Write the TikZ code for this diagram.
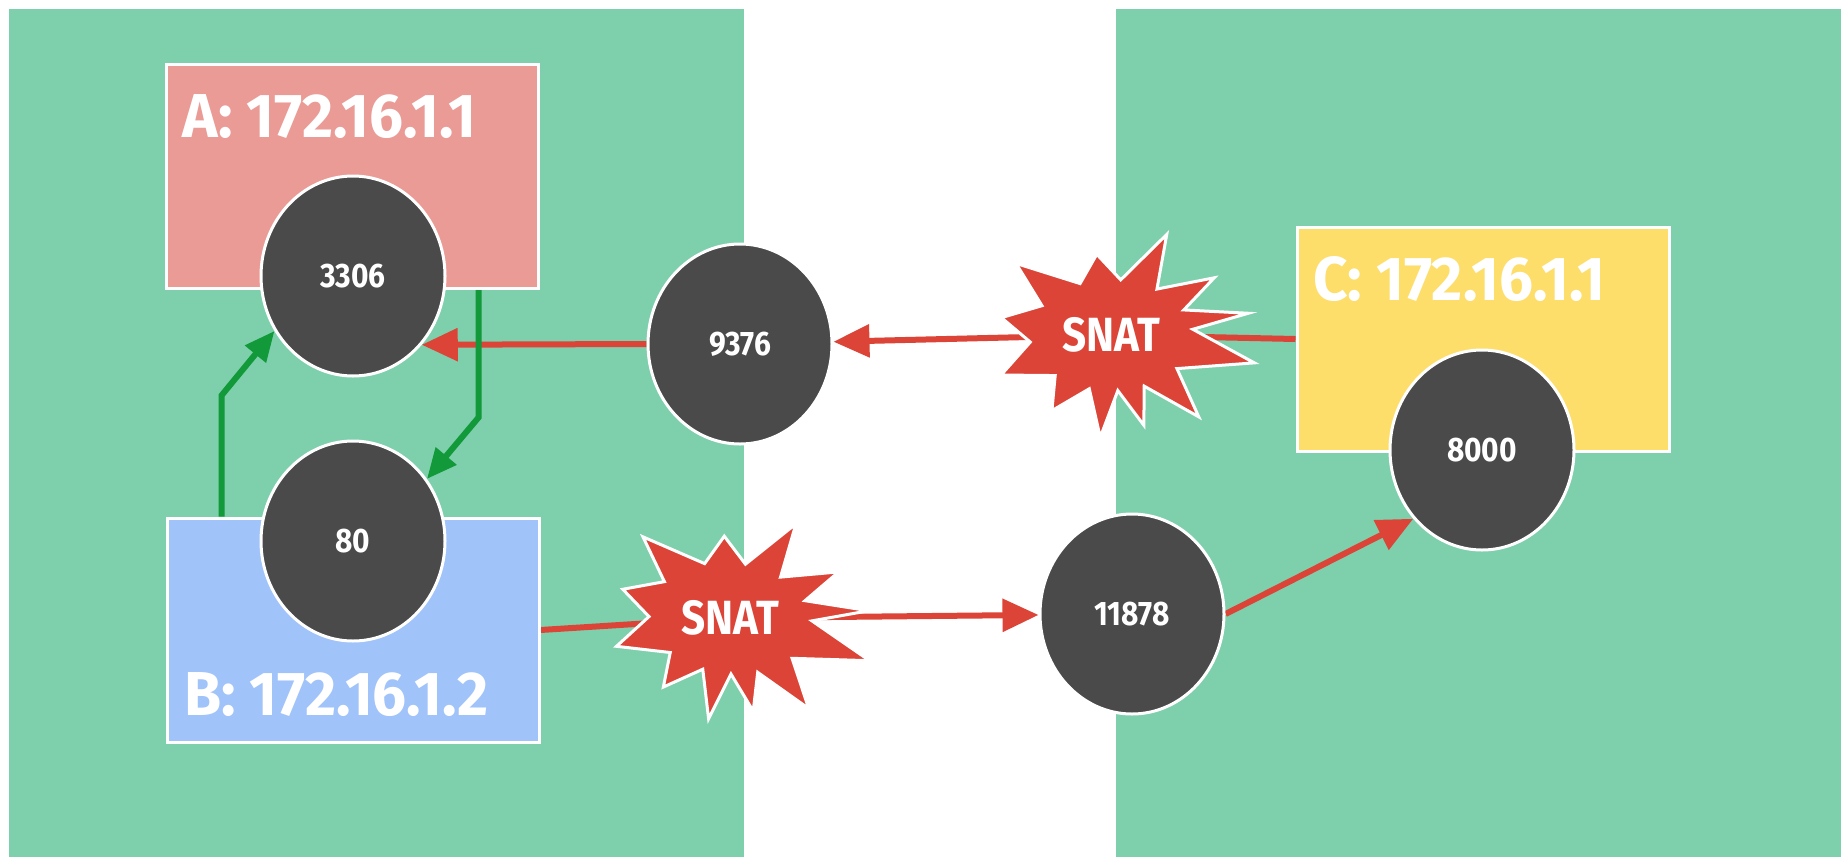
\documentclass[tikz,border=0pt]{standalone}
\usepackage{fontspec}
\newfontfamily\labfont{Fira Sans}[FakeStretch=0.97]
\newfontfamily\cond{Fira Sans}[FakeStretch=0.88]
\usetikzlibrary{shapes.geometric,arrows.meta,calc}

\definecolor{zone}{HTML}{7ECFAC}
\definecolor{hostA}{HTML}{EA9B96}
\definecolor{hostB}{HTML}{A0C3FA}
\definecolor{hostC}{HTML}{FDDE6B}
\definecolor{portgray}{HTML}{4A4A4A}
\definecolor{natred}{HTML}{DB4437}
\definecolor{loopgreen}{HTML}{12993A}

\pgfdeclarelayer{zones}
\pgfdeclarelayer{lines}
\pgfdeclarelayer{bursts}
\pgfsetlayers{zones,lines,bursts,main}

% jagged explosion behind an SNAT label: #1 = label node, #2 = rotation
\newcommand{\snatburst}[2]{%
  \begin{pgfonlayer}{bursts}
  \filldraw[fill=natred, draw=white, line width=3pt, shift={(#1.center)},
      y=1pt, rotate=#2]
    (9:139) -- (19:77) -- (29:118) -- (45:65) -- (61:115) -- (80:56)
    -- (100:82) -- (121:60) -- (143:119) -- (157:75) -- (171:111) -- (185:81)
    -- (200:117) -- (216:69) -- (232:96) -- (248:58) -- (264:103) -- (277:56)
    -- (290:96) -- (303:61) -- (317:120) -- (333:74) -- (349:146) -- (4:82)
    -- cycle;
  \end{pgfonlayer}}

\begin{document}
\begin{tikzpicture}[x=1pt,y=-1pt,
  hostbox/.style={rectangle, draw=white, line width=3pt, minimum width=372pt,
    minimum height=224pt, inner sep=0pt},
  hostlabel/.style={anchor=west, text=white, inner sep=0pt,
    font=\labfont\bfseries\fontsize{62}{64}\selectfont},
  port/.style={ellipse, fill=portgray, draw=white, line width=3pt,
    minimum width=184pt, minimum height=200pt, inner sep=0pt, text=white,
    font=\cond\bfseries\fontsize{34}{36}\selectfont},
  snatlabel/.style={inner sep=0pt, text=white,
    font=\cond\bfseries\fontsize{48}{50}\selectfont},
  redline/.style={natred, line width=6pt},
  redarrow/.style={redline, -{Triangle[length=36pt,width=32pt]}},
  greenarrow/.style={loopgreen, line width=6pt, -{Triangle[length=30pt,width=26pt]}}]

\useasboundingbox (0,0) rectangle (1841,857);

% two address zones on a white ground
\begin{pgfonlayer}{zones}
  \fill[white] (0,0) rectangle (1841,857);
  \fill[zone] (9,9) rectangle (744,857);
  \fill[zone] (1116,9) rectangle (1841,857);
\end{pgfonlayer}

% hosts
\node[hostbox, fill=hostA] (A) at (352,176) {};
\node[hostbox, fill=hostB] (B) at (353,630) {};
\node[hostbox, fill=hostC] (C) at (1483,339) {};
\node[hostlabel] (labA) at (182,117) {A: 172.16.1.1};
\node[hostlabel] (labB) at (184,695) {B: 172.16.1.2};
\node[hostlabel] (labC) at (1313,279) {C: 172.16.1.1};

% ports
\node[port] (p3306)  at (353,276)  {3306};
\node[port] (p80)    at (353,541)  {80};
\node[port] (p9376)  at (740,344)  {9376};
\node[port] (p11878) at (1132,614) {11878};
\node[port] (p8000)  at (1482,450) {8000};

% address translation
\node[snatlabel] (s1) at (1111,335) {SNAT};
\node[snatlabel] (s2) at (730,618)  {SNAT};
\snatburst{s1}{0}
\snatburst{s2}{-6}

% bend points of the local loop
\coordinate (gB)  at ($(B.north west)+(56,0)$);
\coordinate (gBk) at ($(gB)+(0,-121)$);
\coordinate (gA)  at ($(A.south east)+(-61,0)$);
\coordinate (gAk) at ($(gA)+(0,128)$);

\begin{pgfonlayer}{lines}
  \draw[redarrow] (p9376.west) -- (p3306.-45);
  \draw[redarrow] (s1.center) -- (p9376);
  \draw[redline]  (C.west) -- (s1.center);
  \draw[redline]  (B.east) -- (s2.center);
  \draw[redarrow] (s2.center) -- (p11878);
  \draw[redarrow] (p11878.east) -- (p8000.-135);
  \draw[greenarrow] (gB) -- (gBk) -- (p3306.215);
  \draw[greenarrow] (gA) -- (gAk) -- (p80.40);
\end{pgfonlayer}
\end{tikzpicture}
\end{document}
